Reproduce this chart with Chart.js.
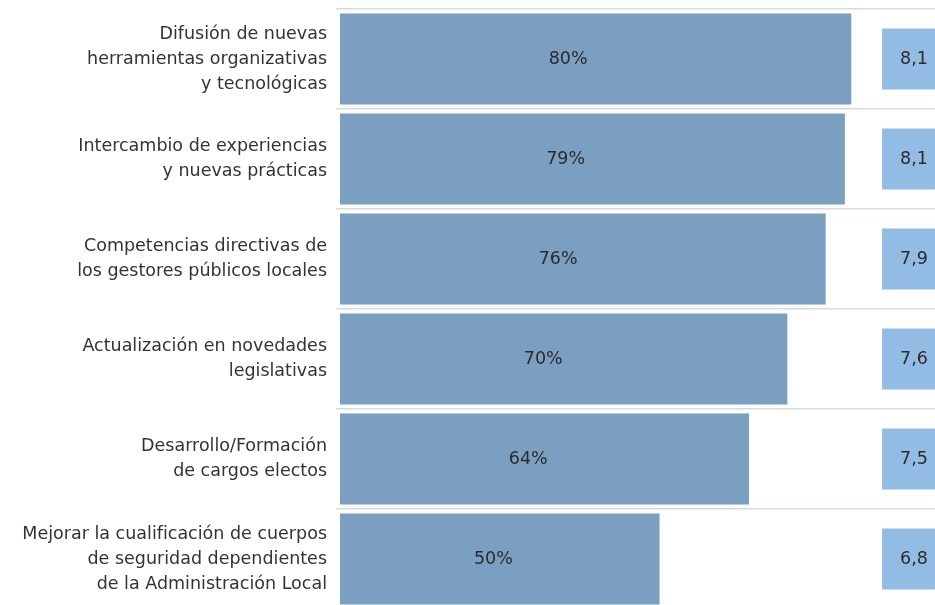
<!DOCTYPE html>
<html lang="es">
<head>
<meta charset="UTF-8">
<title>Acciones formativas</title>
<script src="https://cdn.jsdelivr.net/npm/chart.js"></script>
<style>
  html, body { margin: 0; padding: 0; background: #fff; overflow: hidden; }
  .grafico { position: relative; width: 935px; height: 614px; }
</style>
</head>
<body>
<div class="grafico">
  <canvas id="grafico-acciones"></canvas>
</div>

<script>
const categorias = [
  ["Difusión de nuevas", "herramientas organizativas", "y tecnológicas"],
  ["Intercambio de experiencias", "y nuevas prácticas"],
  ["Competencias directivas de", "los gestores públicos locales"],
  ["Actualización en novedades", "legislativas"],
  ["Desarrollo/Formación", "de cargos electos"],
  ["Mejorar la cualificación de cuerpos", "de seguridad dependientes", "de la Administración Local"]
];
const porcentajes = [80, 79, 76, 70, 64, 50];
const notas = [8.1, 8.1, 7.9, 7.6, 7.5, 6.8];

const fuente = '"DejaVu Sans", sans-serif';

// textos de las barras y de las cajas de nota
const etiquetas = {
  id: "etiquetas",
  afterDatasetsDraw(chart) {
    const ctx = chart.ctx;
    const x = chart.scales.x;
    ctx.save();
    ctx.font = "17.5px " + fuente;
    ctx.fillStyle = "#2b2b2b";
    ctx.textAlign = "center";
    ctx.textBaseline = "middle";
    chart.getDatasetMeta(0).data.forEach((barra, i) => {
      // el porcentaje queda algo a la izquierda del centro
      const px = x.getPixelForValue(porcentajes[i] * 0.39 + 4.5);
      ctx.fillText(porcentajes[i] + "%", px, barra.y);
    });
    chart.getDatasetMeta(1).data.forEach((caja, i) => {
      const p = caja.getProps(["x", "base", "y"], true);
      ctx.fillText(notas[i].toFixed(1).replace(".", ","), (p.x + p.base) / 2 + 1, p.y);
    });
    ctx.restore();
  }
};

new Chart(document.getElementById("grafico-acciones"), {
  type: "bar",
  data: {
    labels: categorias,
    datasets: [
      {
        label: "Porcentaje",
        data: porcentajes,
        backgroundColor: "#7a9fc1",
        barPercentage: 0.91,
        categoryPercentage: 1,
        grouped: false,
        xAxisID: "x"
      },
      {
        label: "Nota media",
        data: notas.map(() => [0.911, 1.015]),
        backgroundColor: "#93bce4",
        barPercentage: 0.61,
        categoryPercentage: 1,
        grouped: false,
        xAxisID: "x2"
      }
    ]
  },
  options: {
    indexAxis: "y",
    responsive: true,
    maintainAspectRatio: false,
    animation: false,
    layout: { padding: { top: 9, bottom: 5, left: 0, right: 0 } },
    plugins: {
      legend: { display: false },
      tooltip: { enabled: false }
    },
    scales: {
      x: { display: false, min: 0, max: 93.1 },
      x2: { display: false, min: 0, max: 1 },
      y: {
        afterFit(scale) {
          scale.width = 340;
          // sin márgenes extra por las etiquetas de varias líneas
          scale.paddingTop = 0;
          scale.paddingBottom = 0;
        },
        border: { display: false },
        grid: {
          color: "#d6dcdb",
          lineWidth: 1.5,
          tickLength: 4
        },
        ticks: {
          padding: 9,
          color: "#333",
          font: { family: fuente, size: 17.5, lineHeight: 1.43 }
        }
      }
    }
  },
  plugins: [etiquetas]
});
</script>
</body>
</html>
